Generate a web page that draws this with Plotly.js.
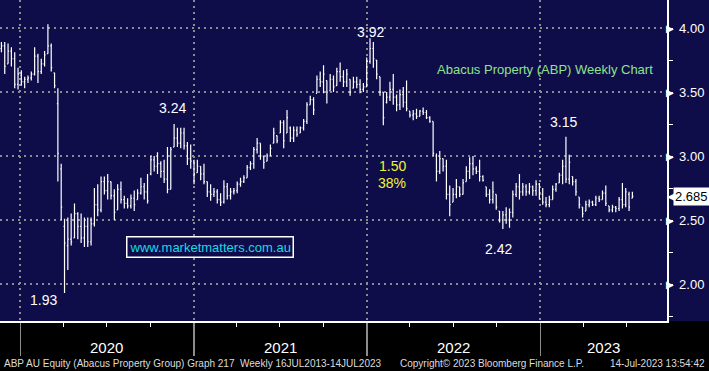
<!DOCTYPE html>
<html><head><meta charset="utf-8">
<script src="https://cdn.plot.ly/plotly-3.0.1.min.js"></script>
<style>html,body{margin:0;padding:0;background:#000;}#chart{width:709px;height:371px;}</style>
</head><body><div id="chart"></div>
<script>
// ---- data (weekly OHLC) ----
const firstWeek = '2019-11-22';
const high = [
3.89,3.89,3.88,3.85,3.81,3.69,3.67,3.62,3.63,3.66,
3.85,3.80,3.76,3.82,4.03,3.88,3.65,3.53,2.94,2.51,
2.52,2.55,2.63,2.56,2.55,2.52,2.52,2.52,2.75,2.78,
2.84,2.84,2.86,2.80,2.74,2.78,2.80,2.69,2.67,2.70,
2.73,2.74,2.83,2.79,2.86,3.00,3.00,3.03,2.96,2.97,
3.07,3.07,3.25,3.22,3.22,3.22,3.11,3.09,2.97,2.97,
2.92,2.94,2.80,2.78,2.75,2.74,2.71,2.81,2.79,2.75,
2.75,2.80,2.83,2.85,2.93,2.96,3.07,3.14,3.10,3.00,
3.02,3.09,3.22,3.16,3.28,3.28,3.36,3.23,3.23,3.23,
3.23,3.29,3.42,3.47,3.46,3.63,3.66,3.71,3.59,3.64,
3.63,3.69,3.73,3.67,3.68,3.60,3.62,3.62,3.60,3.57,
3.77,3.92,3.89,3.75,3.62,3.50,3.50,3.58,3.64,3.48,
3.52,3.54,3.59,3.35,3.36,3.37,3.36,3.38,3.36,3.31,
3.27,3.02,3.04,2.98,2.97,2.77,2.75,2.82,2.76,2.82,
2.92,2.99,3.00,2.92,2.97,2.85,2.76,2.74,2.80,2.70,
2.57,2.57,2.60,2.59,2.73,2.79,2.86,2.79,2.78,2.79,
2.77,2.81,2.79,2.75,2.68,2.69,2.77,2.79,2.87,2.97,
3.15,3.01,2.84,2.82,2.68,2.60,2.65,2.66,2.65,2.69,
2.69,2.73,2.77,2.61,2.62,2.61,2.68,2.79,2.75,2.72,2.72];
const low = [
3.81,3.64,3.72,3.70,3.53,3.52,3.55,3.53,3.57,3.59,
3.63,3.57,3.64,3.70,3.80,3.66,3.53,2.80,2.50,1.93,
2.11,2.30,2.36,2.35,2.32,2.29,2.29,2.30,2.45,2.53,
2.56,2.70,2.66,2.66,2.50,2.58,2.63,2.59,2.59,2.59,
2.57,2.66,2.70,2.66,2.63,2.85,2.88,2.86,2.83,2.79,
2.71,2.74,3.07,3.07,3.06,3.05,2.93,2.90,2.78,2.87,
2.81,2.78,2.68,2.65,2.68,2.63,2.61,2.63,2.66,2.66,
2.70,2.71,2.76,2.79,2.83,2.89,2.90,3.02,2.97,2.90,
2.96,3.00,3.10,3.10,3.18,3.06,3.18,3.11,3.11,3.15,
3.18,3.20,3.25,3.40,3.32,3.49,3.54,3.49,3.41,3.51,
3.50,3.55,3.58,3.54,3.54,3.47,3.53,3.53,3.49,3.50,
3.54,3.72,3.69,3.60,3.47,3.24,3.41,3.43,3.40,3.35,
3.36,3.38,3.35,3.30,3.28,3.29,3.31,3.32,3.29,3.26,
3.00,2.80,2.86,2.88,2.66,2.53,2.64,2.67,2.68,2.70,
2.80,2.82,2.85,2.86,2.80,2.80,2.68,2.63,2.63,2.58,
2.48,2.43,2.47,2.44,2.52,2.68,2.66,2.69,2.69,2.70,
2.69,2.69,2.66,2.62,2.60,2.60,2.66,2.72,2.79,2.78,
2.79,2.78,2.77,2.69,2.59,2.52,2.57,2.60,2.61,2.61,
2.64,2.66,2.61,2.56,2.56,2.56,2.57,2.59,2.60,2.57,2.67];
const open = [
3.84,3.86,3.72,3.82,3.76,3.56,3.63,3.58,3.60,3.61,
3.64,3.78,3.66,3.72,3.80,3.86,3.65,3.41,2.90,2.45,
2.30,2.35,2.36,2.55,2.45,2.36,2.45,2.33,2.47,2.62,
2.58,2.80,2.73,2.80,2.69,2.58,2.74,2.66,2.63,2.61,
2.67,2.66,2.71,2.76,2.72,2.86,2.97,2.92,2.94,2.88,
2.82,2.74,3.07,3.14,3.10,3.18,3.08,2.98,2.96,2.87,
2.92,2.86,2.80,2.72,2.70,2.72,2.66,2.64,2.76,2.69,
2.72,2.73,2.78,2.80,2.83,2.91,2.94,3.05,3.10,3.00,
2.96,3.00,3.10,3.16,3.18,3.26,3.18,3.22,3.14,3.20,
3.18,3.22,3.27,3.40,3.44,3.49,3.60,3.58,3.59,3.51,
3.60,3.55,3.66,3.62,3.58,3.60,3.53,3.58,3.56,3.52,
3.54,3.74,3.84,3.75,3.62,3.50,3.42,3.46,3.52,3.46,
3.40,3.48,3.42,3.35,3.32,3.33,3.31,3.35,3.34,3.30,
3.27,3.00,2.88,2.98,2.92,2.70,2.64,2.70,2.76,2.70,
2.80,2.88,2.94,2.90,2.88,2.84,2.76,2.70,2.66,2.70,
2.57,2.50,2.54,2.50,2.56,2.70,2.76,2.72,2.76,2.72,
2.76,2.73,2.78,2.70,2.64,2.62,2.66,2.74,2.79,2.85,
2.92,2.82,2.84,2.80,2.68,2.60,2.57,2.62,2.64,2.62,
2.67,2.66,2.71,2.61,2.58,2.60,2.59,2.66,2.62,2.70,2.67];
const close = [
3.86,3.70,3.82,3.76,3.56,3.64,3.58,3.60,3.61,3.64,
3.78,3.66,3.72,3.79,3.86,3.69,3.55,3.02,2.60,2.32,
2.35,2.33,2.55,2.45,2.36,2.45,2.33,2.47,2.62,2.58,
2.80,2.73,2.80,2.69,2.56,2.74,2.66,2.63,2.61,2.67,
2.62,2.71,2.76,2.72,2.65,2.97,2.92,2.94,2.88,2.82,
2.74,3.05,3.14,3.10,3.18,3.08,2.98,2.96,2.86,2.92,
2.86,2.80,2.72,2.70,2.72,2.66,2.64,2.76,2.69,2.72,
2.73,2.78,2.80,2.83,2.91,2.94,3.05,3.10,3.00,2.95,
3.00,3.06,3.18,3.12,3.26,3.12,3.30,3.14,3.20,3.17,
3.22,3.27,3.40,3.44,3.36,3.60,3.58,3.64,3.50,3.60,
3.54,3.66,3.62,3.58,3.64,3.50,3.58,3.56,3.52,3.54,
3.74,3.84,3.76,3.64,3.50,3.30,3.46,3.52,3.46,3.40,
3.48,3.42,3.37,3.32,3.33,3.31,3.35,3.34,3.30,3.27,
3.02,2.88,2.98,2.92,2.70,2.62,2.70,2.76,2.70,2.79,
2.88,2.94,2.90,2.88,2.84,2.81,2.70,2.66,2.72,2.60,
2.50,2.54,2.50,2.56,2.70,2.76,2.72,2.76,2.72,2.76,
2.73,2.78,2.70,2.64,2.62,2.66,2.74,2.78,2.85,2.92,
2.82,2.95,2.80,2.72,2.62,2.55,2.62,2.64,2.62,2.67,
2.66,2.71,2.63,2.58,2.60,2.59,2.66,2.62,2.72,2.60,2.685];

const yTickVals = [2.0, 2.5, 3.0, 3.5, 4.0];
const yTickText = ['2.00', '2.50', '3.00', '3.50', '4.00'];
const yearStarts = ['2020-01-01', '2021-01-01', '2022-01-01', '2023-01-01'];
const yearLabels = ['2020', '2021', '2022', '2023'];
const yearLabelDates = ['2020-07-01', '2021-07-02', '2022-07-02', '2023-05-15'];
const lastPrice = 2.685;
const lastPriceText = '2.685';

// price call-outs: [date, value, text, colour]
const callouts = [
  ['2020-11-16', 3.375, '3.24', '#ffffff'],
  ['2022-01-07', 3.97, '3.92', '#ffffff'],
  ['2023-02-18', 3.266, '3.15', '#ffffff'],
  ['2022-10-04', 2.273, '2.42', '#ffffff'],
  ['2020-02-18', 1.875, '1.93', '#ffffff'],
  ['2022-02-23', 2.922, '1.50', '#f2f230'],
  ['2022-02-23', 2.789, '38%', '#f2f230']
];

// ---- build ----
const NAVY = '#0f0d49';
const FONT = 'Liberation Sans, Arial, sans-serif';
const startMs = Date.parse(firstWeek + 'T00:00:00Z');
const dates = high.map((_, i) => new Date(startMs + i * 7 * 86400000).toISOString().slice(0, 10));

const ohlc = {
  type: 'ohlc', x: dates, open: open, high: high, low: low, close: close,
  increasing: {line: {color: '#ffffff', width: 1.2}},
  decreasing: {line: {color: '#ffffff', width: 1.2}},
  tickwidth: 0.3, hoverinfo: 'skip', showlegend: false
};

const annotations = [];
callouts.forEach(c => annotations.push({
  xref: 'x', yref: 'y', x: c[0], y: c[1], text: c[2], showarrow: false,
  font: {family: FONT, size: 14, color: c[3]}, xanchor: 'center', yanchor: 'middle'
}));
yearLabels.forEach((t, i) => annotations.push({
  xref: 'x', yref: 'paper', x: yearLabelDates[i], y: -0.081, text: t, showarrow: false,
  font: {family: FONT, size: 15, color: '#ffffff'}, xanchor: 'center', yanchor: 'middle'
}));
// small white flags beside each price label on the right axis
yTickVals.forEach(v => annotations.push({
  xref: 'paper', yref: 'y', x: 1.0, y: v, xanchor: 'left', yanchor: 'middle',
  xshift: -2, text: '\u25B6', showarrow: false, borderpad: 0,
  font: {family: 'DejaVu Sans', size: 10, color: '#ffffff'}
}));
annotations.push({
  xref: 'paper', yref: 'paper', x: 0.982, y: 0.782, xanchor: 'right', yanchor: 'middle',
  text: 'Abacus Property (ABP) Weekly Chart', showarrow: false,
  font: {family: FONT, size: 13, color: '#8ee28e'}
});
annotations.push({
  xref: 'paper', yref: 'paper', x: 0.3148, y: 0.2305, xanchor: 'center', yanchor: 'middle',
  text: 'www.marketmatters.com.au', showarrow: false,
  font: {family: FONT, size: 13, color: '#18d8e8'},
  bordercolor: '#ffffff', borderwidth: 1.5, borderpad: 2, bgcolor: NAVY
});
annotations.push({
  xref: 'paper', yref: 'y', x: 1.0, y: lastPrice, xanchor: 'left', yanchor: 'middle',
  xshift: -1, text: '\u25C0', showarrow: false, borderpad: 0,
  font: {family: 'DejaVu Sans', size: 11, color: '#ffffff'}
});
annotations.push({
  xref: 'paper', yref: 'y', x: 1.0085, y: lastPrice, xanchor: 'left', yanchor: 'middle',
  text: lastPriceText, showarrow: false, bgcolor: '#ffffff', borderpad: 1,
  font: {family: FONT, size: 13, color: '#000000'}
});
const footer = [
  [0.003, 'left', 'ABP AU Equity (Abacus Property Group) Graph 217  Weekly 16JUL2013-14JUL2023'],
  [0.597, 'left', 'Copyright\u00a9 2023 Bloomberg Finance L.P.'],
  [1.060, 'right', '14-Jul-2023 13:54:42']
];
footer.forEach(f => annotations.push({
  xref: 'paper', yref: 'paper', x: f[0], y: -0.131, xanchor: f[1], yanchor: 'middle',
  text: f[2], showarrow: false, font: {family: FONT, size: 10, color: '#dcdcdc'}
}));

const layout = {
  width: 709, height: 371,
  margin: {l: 0, r: 42, t: 0, b: 50, pad: 0},
  paper_bgcolor: '#000000', plot_bgcolor: NAVY,
  font: {family: FONT, color: '#ffffff'},
  showlegend: false,
  xaxis: {
    type: 'date', range: ['2019-11-19', '2023-09-25'],
    rangeslider: {visible: false},
    tickmode: 'array', tickvals: yearStarts, ticktext: yearStarts.map(() => ''),
    ticks: 'outside', ticklen: 33, tickcolor: '#8c8c8c', tickwidth: 1.5,
    showgrid: true, gridcolor: '#8c8c8c', gridwidth: 2, griddash: '2px,4px',
    minor: {dtick: 'M3', tick0: '2020-01-01', ticks: 'outside', ticklen: 4, tickcolor: '#ffffff', tickwidth: 1, showgrid: false},
    showline: true, linecolor: '#ffffff', linewidth: 1.5,
    zeroline: false, fixedrange: true
  },
  yaxis: {
    side: 'right', range: [1.711, 4.219],
    tickmode: 'array', tickvals: yTickVals, ticktext: yTickText,
    ticks: '', ticklabelstandoff: 8,
    tickfont: {family: FONT, size: 13, color: '#ffffff'},
    minor: {dtick: 0.25, tick0: 0, ticks: 'outside', ticklen: 4, tickcolor: '#ffffff', showgrid: false},
    showgrid: true, gridcolor: '#8c8c8c', gridwidth: 2, griddash: '2px,4px',
    showline: true, linecolor: '#ffffff', linewidth: 1.5,
    zeroline: false, fixedrange: true
  },
  shapes: [{
    type: 'rect', xref: 'paper', yref: 'paper', x0: 1, x1: 1.1, y0: 0, y1: 1,
    fillcolor: NAVY, line: {width: 0}, layer: 'below'
  }],
  annotations: annotations
};

Plotly.newPlot('chart', [ohlc], layout, {staticPlot: true, displayModeBar: false});
</script>
</body></html>
